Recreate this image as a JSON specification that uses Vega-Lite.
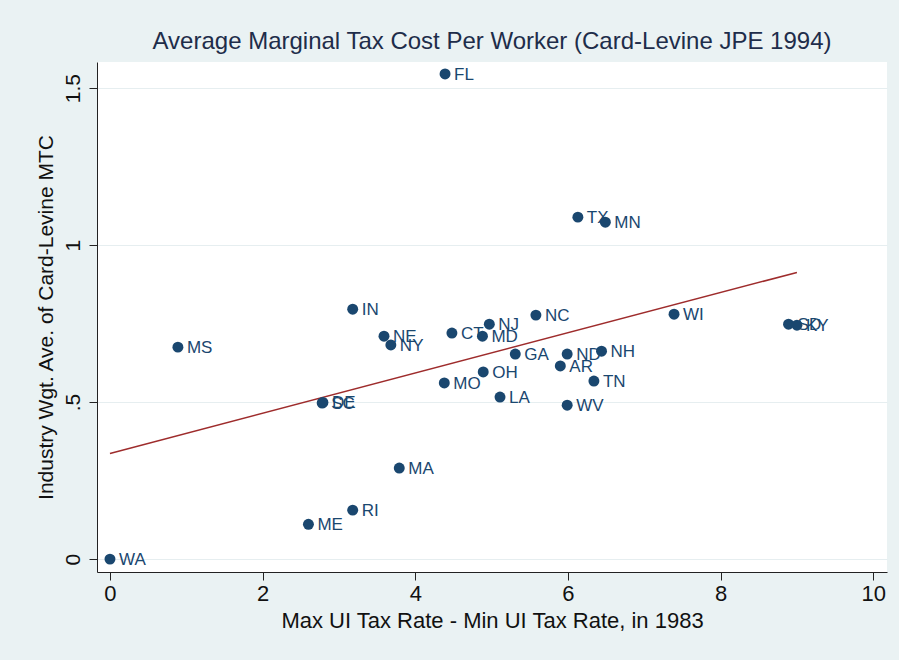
{
  "$schema": "https://vega.github.io/schema/vega-lite/v6.json",
  "width": 790,
  "height": 510,
  "autosize": {"type": "none"},
  "padding": {"left": 97, "top": 62, "right": 12, "bottom": 88},
  "background": "#eaf2f3",
  "view": {"fill": "white", "stroke": null},
  "title": {
    "text": "Average Marginal Tax Cost Per Worker (Card-Levine JPE 1994)",
    "font": "Liberation Sans, Arial",
    "fontSize": 24,
    "fontWeight": "normal",
    "color": "#1e2d4a",
    "anchor": "middle",
    "offset": 8
  },
  "config": {
    "font": "Liberation Sans, Arial"
  },
  "data": {
    "values": [
      {"state": "FL", "x": 4.39, "y": 1.545},
      {"state": "TX", "x": 6.13, "y": 1.089},
      {"state": "MN", "x": 6.49, "y": 1.073},
      {"state": "IN", "x": 3.18, "y": 0.796},
      {"state": "NE", "x": 3.59, "y": 0.710},
      {"state": "NY", "x": 3.68, "y": 0.682},
      {"state": "CT", "x": 4.48, "y": 0.720},
      {"state": "NJ", "x": 4.97, "y": 0.748},
      {"state": "MD", "x": 4.88, "y": 0.710},
      {"state": "NC", "x": 5.58, "y": 0.777},
      {"state": "WI", "x": 7.39, "y": 0.780},
      {"state": "SD", "x": 8.89, "y": 0.748},
      {"state": "KY", "x": 9.0, "y": 0.745},
      {"state": "MS", "x": 0.89, "y": 0.675},
      {"state": "GA", "x": 5.31, "y": 0.653},
      {"state": "ND", "x": 5.99, "y": 0.653},
      {"state": "NH", "x": 6.44, "y": 0.662},
      {"state": "AR", "x": 5.90, "y": 0.615},
      {"state": "TN", "x": 6.34, "y": 0.567},
      {"state": "OH", "x": 4.89, "y": 0.596},
      {"state": "MO", "x": 4.38, "y": 0.561},
      {"state": "LA", "x": 5.11, "y": 0.516},
      {"state": "WV", "x": 5.99, "y": 0.490},
      {"state": "SC", "x": 2.78, "y": 0.497},
      {"state": "DE", "x": 2.79, "y": 0.499},
      {"state": "MA", "x": 3.79, "y": 0.290},
      {"state": "RI", "x": 3.18, "y": 0.156},
      {"state": "ME", "x": 2.60, "y": 0.111},
      {"state": "WA", "x": 0.0, "y": 0.0}
    ]
  },
  "encoding": {
    "x": {
      "field": "x",
      "type": "quantitative",
      "scale": {"domain": [-0.17, 10.18], "nice": false, "zero": false},
      "axis": {
        "values": [0, 2, 4, 6, 8, 10],
        "title": "Max UI Tax Rate - Min UI Tax Rate, in 1983",
        "titleFontSize": 22,
        "titleFontWeight": "normal",
        "titleColor": "#111111",
        "titlePadding": 6,
        "labelFontSize": 22,
        "labelColor": "#111111",
        "labelPadding": 3,
        "tickSize": 8,
        "tickColor": "#222222",
        "domainColor": "#222222",
        "grid": false
      }
    },
    "y": {
      "field": "y",
      "type": "quantitative",
      "scale": {"domain": [-0.041, 1.583], "nice": false, "zero": false},
      "axis": {
        "values": [0, 0.5, 1, 1.5],
        "labelExpr": "datum.value == 0 ? '0' : datum.value == 0.5 ? '.5' : datum.value == 1 ? '1' : '1.5'",
        "title": "Industry Wgt. Ave. of Card-Levine MTC",
        "titleFontSize": 21,
        "titleFontWeight": "normal",
        "titleColor": "#111111",
        "titlePadding": 6,
        "labelFontSize": 21,
        "labelColor": "#111111",
        "labelAngle": -90,
        "labelAlign": "center",
        "labelBaseline": "bottom",
        "labelPadding": 6,
        "tickSize": 8,
        "tickColor": "#222222",
        "domainColor": "#222222",
        "grid": true,
        "gridColor": "#e6eef0",
        "gridWidth": 1
      }
    }
  },
  "layer": [
    {
      "mark": {"type": "line", "color": "#9e2c2c", "strokeWidth": 1.5, "clip": true},
      "transform": [{"regression": "y", "on": "x"}],
      "encoding": {}
    },
    {
      "mark": {"type": "circle", "size": 120, "opacity": 1, "color": "#1a476f"}
    },
    {
      "mark": {"type": "text", "align": "left", "baseline": "middle", "dx": 9, "dy": 1, "fontSize": 17, "color": "#1a476f"},
      "encoding": {"text": {"field": "state"}}
    }
  ]
}
